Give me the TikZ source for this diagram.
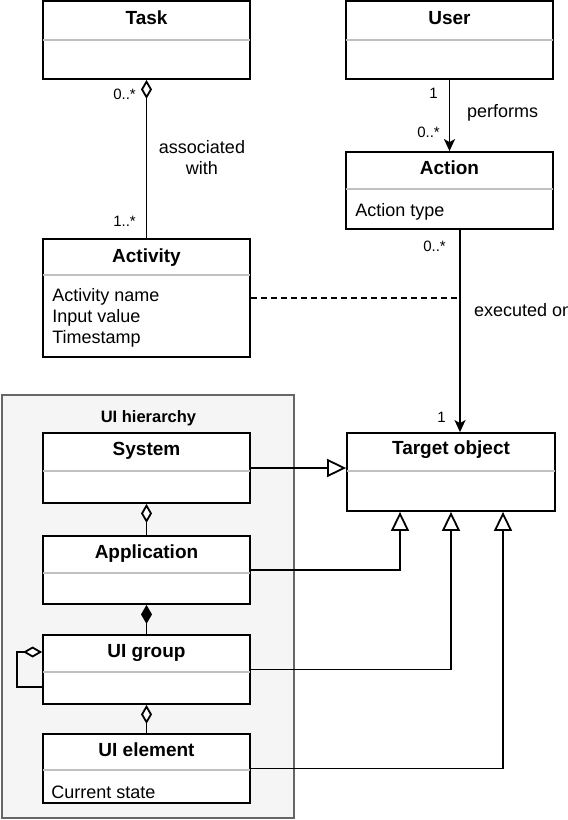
\documentclass[tikz,border=0pt]{standalone}
\usepackage{fontspec}
\setmainfont{Liberation Sans}
\usetikzlibrary{arrows.meta}
\definecolor{dividergray}{HTML}{C0C0C0}
\definecolor{hierfill}{HTML}{F5F5F5}
\definecolor{hierdraw}{HTML}{666666}
\tikzset{
  umlclass/.style={draw, line width=1.8pt, fill=white, minimum width=207pt, inner sep=0pt},
  classname/.style={font=\fontsize{19}{22}\selectfont\bfseries, anchor=base, inner sep=0pt},
  attrs/.style={font=\fontsize{18}{21}\selectfont, anchor=base west, align=left, inner sep=0pt},
  divider/.style={draw=dividergray, line width=1.4pt, shorten >=0.9pt, shorten <=0.9pt},
  lbl/.style={font=\fontsize{18}{21}\selectfont, inner sep=0pt},
  mult/.style={font=\fontsize{15}{18}\selectfont, inner sep=0pt},
  conn/.style={line width=1.8pt},
  aggr/.style={conn, -{Diamond[open, fill=white, length=19pt, width=11pt]}},
  comp/.style={conn, -{Diamond[length=19pt, width=11pt]}},
  gen/.style={conn, -{Triangle[open, fill=white, length=19pt, width=18pt]}},
  nav/.style={conn, -{Stealth[length=12pt, width=11pt, inset=3pt]}},
  hierbox/.style={draw=hierdraw, fill=hierfill, line width=1.5pt, minimum width=292pt, minimum height=423pt, inner sep=0pt}
}
\begin{document}
\begin{tikzpicture}[x=1pt,y=-1pt]
  \useasboundingbox (0,0) rectangle (568,820);

  % UI hierarchy container
  \node[hierbox] (uihier) at (148,606.5) {};
  \node[font=\fontsize{16.5}{19}\selectfont\bfseries, anchor=base, inner sep=0pt] (uihiertitle) at (148.5,422) {UI hierarchy};

  % classes
  \node[umlclass, minimum height=78pt] (task) at (146.5,40) {};
  \node[classname] (taskname) at ([yshift=-24pt]task.north) {Task};
  \draw[divider] ([yshift=-40pt]task.north west) -- ([yshift=-40pt]task.north east);

  \node[umlclass, minimum height=78pt] (user) at (449.5,40) {};
  \node[classname] (username) at ([yshift=-24pt]user.north) {User};
  \draw[divider] ([yshift=-40pt]user.north west) -- ([yshift=-40pt]user.north east);

  \node[umlclass, minimum height=77pt] (action) at (449.5,190.5) {};
  \node[classname] (actionname) at ([yshift=-23pt]action.north) {Action};
  \draw[divider] ([yshift=-38pt]action.north west) -- ([yshift=-38pt]action.north east);
  \node[attrs] (actionattrs) at ([xshift=10pt,yshift=-65pt]action.north west) {Action type};

  \node[umlclass, minimum height=118pt] (activity) at (146.5,298) {};
  \node[classname] (activityname) at ([yshift=-24pt]activity.north) {Activity};
  \draw[divider] ([yshift=-37pt]activity.north west) -- ([yshift=-37pt]activity.north east);
  \node[attrs] (activityattrs) at ([xshift=10pt,yshift=-105pt]activity.north west) {Activity name\\Input value\\Timestamp};

  \node[umlclass, minimum height=70pt] (system) at (146.5,468) {};
  \node[classname] (systemname) at ([yshift=-23pt]system.north) {System};
  \draw[divider] ([yshift=-39pt]system.north west) -- ([yshift=-39pt]system.north east);

  \node[umlclass, minimum height=68pt] (application) at (146.5,570) {};
  \node[classname] (applicationname) at ([yshift=-23pt]application.north) {Application};
  \draw[divider] ([yshift=-38pt]application.north west) -- ([yshift=-38pt]application.north east);

  \node[umlclass, minimum height=69pt] (uigroup) at (146.5,669.5) {};
  \node[classname] (uigroupname) at ([yshift=-23pt]uigroup.north) {UI group};
  \draw[divider] ([yshift=-38pt]uigroup.north west) -- ([yshift=-38pt]uigroup.north east);

  \node[umlclass, minimum height=69pt] (uielement) at (146.5,768.5) {};
  \node[classname] (uielementname) at ([yshift=-23pt]uielement.north) {UI element};
  \draw[divider] ([yshift=-37pt]uielement.north west) -- ([yshift=-37pt]uielement.north east);
  \node[attrs] (uielementattrs) at ([xshift=9pt,yshift=-65pt]uielement.north west) {Current state};

  \node[umlclass, minimum width=208pt, minimum height=78pt] (target) at (451,472) {};
  \node[classname] (targetname) at ([yshift=-22pt]target.north) {Target object};
  \draw[divider] ([yshift=-39pt]target.north west) -- ([yshift=-39pt]target.north east);

  % task -- activity
  \draw[aggr] (activity) -- (task);
  \node[mult, anchor=base east] (taskmult) at (136,99) {0..*};
  \node[mult, anchor=base east] (activitymult) at (136,226) {1..*};
  \node[lbl, align=center] (assoclbl) at (202,158) {associated\\with};

  % user -> action
  \draw[nav] (user) -- (action);
  \node[mult, anchor=base east] (usermult) at (438,98) {1};
  \node[lbl, anchor=base west] (performslbl) at (467,117) {performs};
  \node[mult, anchor=base east] (actionmult) at (440,137) {0..*};

  % action -> target object
  \draw[nav] ([xshift=10.5pt]action.south) -- ([xshift=10.5pt]action.south |- target.north);
  \coordinate (execpt) at ([xshift=10.5pt]action.south |- activity.east);
  \draw[conn, line width=1.5pt, dash pattern=on 6pt off 4pt] (activity.east) -- (execpt);
  \node[mult, anchor=base east] (actionmult2) at (446,251) {0..*};
  \node[lbl, anchor=base west] (executedlbl) at (474,316) {executed on};
  \node[mult, anchor=base east] (targetmult) at (446,422) {1};

  % generalisations
  \draw[gen] (system.east) -- (system.east -| target.west);
  \draw[gen] (application.east) -| ([xshift=-51pt]target.south);
  \draw[gen] (uigroup.east) -| (target.south);
  \draw[gen] (uielement.east) -| ([xshift=52pt]target.south);

  % hierarchy
  \draw[aggr] (application) -- (system);
  \draw[comp] (uigroup) -- (application);
  \draw[aggr] (uielement) -- (uigroup);
  \draw[aggr] ([yshift=-17.5pt]uigroup.west) -- ++(-25pt,0pt) |- ([yshift=17.5pt]uigroup.west);
\end{tikzpicture}
\end{document}
